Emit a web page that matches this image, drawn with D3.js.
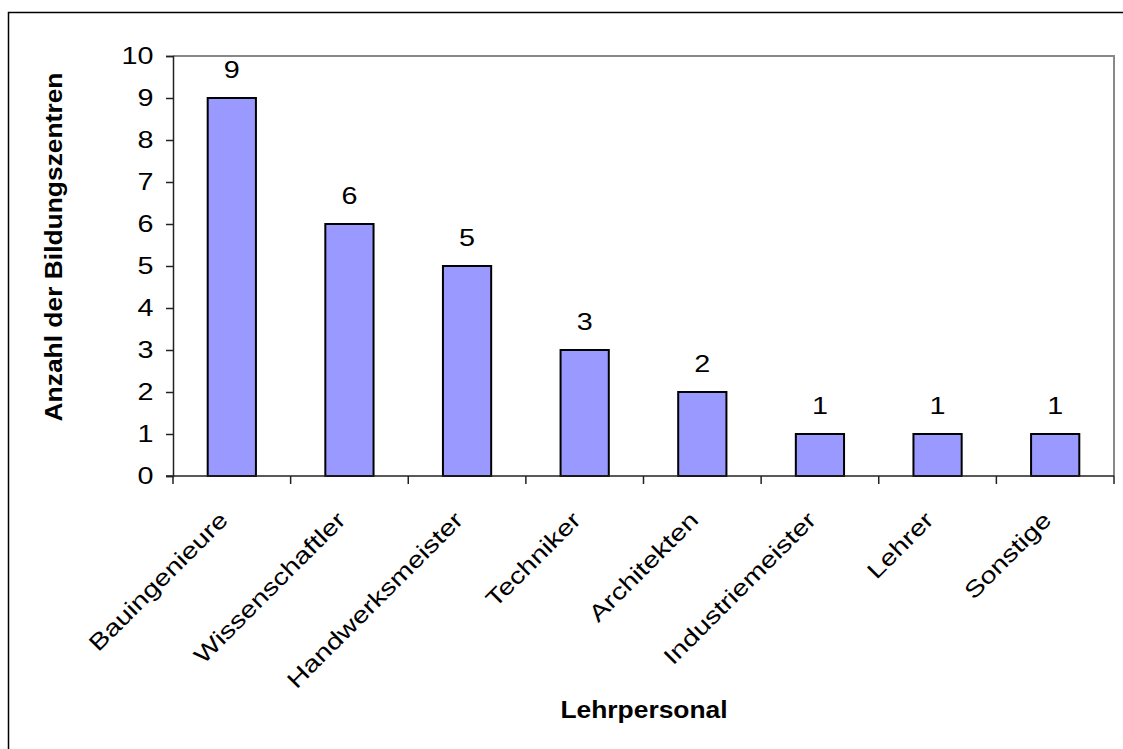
<!DOCTYPE html>
<html>
<head>
<meta charset="utf-8">
<script src="https://cdn.jsdelivr.net/npm/d3@7"></script>
<style>
  html, body { margin: 0; padding: 0; background: #fff; }
  svg { display: block; font-family: "Liberation Sans", Arial, sans-serif; }
</style>
</head>
<body>
<svg id="chart" width="1123" height="749"></svg>
<script>
// Teaching staff by profession, number of training centres
const categories = ["Bauingenieure", "Wissenschaftler", "Handwerksmeister", "Techniker",
                    "Architekten", "Industriemeister", "Lehrer", "Sonstige"];
const values = [9, 6, 5, 3, 2, 1, 1, 1];
const yTicks = [0, 1, 2, 3, 4, 5, 6, 7, 8, 9, 10];
const yTitle = "Anzahl der Bildungszentren";
const xTitle = "Lehrpersonal";

const svg = d3.select("#chart");
const W = 1123, H = 749;
const plot = { left: 173, top: 56, right: 1114, bottom: 476 };
const FONT = "Liberation Sans, Arial, sans-serif";
// the label face is set wide: glyphs are widened along the baseline
const WIDE = 1.25;
const LABEL_SIZE = 23;

// outer chart frame (extends past the right and bottom edge)
svg.append("rect")
  .attr("x", 8.5).attr("y", 12.5)
  .attr("width", W).attr("height", H)
  .attr("fill", "#fff").attr("stroke", "#000").attr("stroke-width", 1.5);

const x = d3.scaleBand()
  .domain(categories)
  .range([plot.left, plot.right])
  .paddingInner(0.59).paddingOuter(0.295);

const xOuter = d3.scaleBand().domain(categories).range([plot.left, plot.right]);

const y = d3.scaleLinear().domain([0, 10]).range([plot.bottom, plot.top]);

// plot area: grey top/right border
svg.append("path")
  .attr("d", `M${plot.left},${plot.top}H${plot.right}V${plot.bottom}`)
  .attr("fill", "none").attr("stroke", "#888").attr("stroke-width", 2);

// bars
svg.append("g").selectAll("rect")
  .data(values)
  .join("rect")
  .attr("x", (d, i) => x(categories[i]))
  .attr("y", d => y(d))
  .attr("width", x.bandwidth())
  .attr("height", d => y(0) - y(d))
  .attr("fill", "#9999ff")
  .attr("stroke", "#000")
  .attr("stroke-width", 2);

// value labels
svg.append("g").selectAll("text")
  .data(values)
  .join("text")
  .attr("transform", (d, i) =>
    `translate(${x(categories[i]) + x.bandwidth() / 2},${y(d) - 20}) scale(${WIDE},1)`)
  .attr("text-anchor", "middle")
  .attr("font-size", LABEL_SIZE)
  .attr("fill", "#000")
  .text(d => d);

// y axis
const yAxis = d3.axisLeft(y).tickValues(yTicks).tickSize(7).tickPadding(13).tickFormat(d3.format("d"));
const gy = svg.append("g").attr("transform", `translate(${plot.left},0)`).call(yAxis);
gy.select(".domain").attr("stroke", "#222").attr("stroke-width", 1.5);
gy.selectAll(".tick line").attr("stroke", "#222").attr("stroke-width", 1.5);
gy.selectAll(".tick text")
  .attr("font-size", LABEL_SIZE).attr("fill", "#000")
  .attr("font-family", FONT)
  .attr("x", -19.5 / WIDE)
  .attr("transform", `scale(${WIDE},1)`);

// x axis: baseline with ticks at category boundaries
const gx = svg.append("g");
gx.append("line")
  .attr("x1", plot.left - 7).attr("x2", plot.right)
  .attr("y1", plot.bottom).attr("y2", plot.bottom)
  .attr("stroke", "#222").attr("stroke-width", 1.5);
const boundaries = categories.map(c => xOuter(c)).concat([plot.right]);
gx.selectAll("line.tk")
  .data(boundaries)
  .join("line")
  .attr("class", "tk")
  .attr("x1", d => d).attr("x2", d => d)
  .attr("y1", plot.bottom).attr("y2", plot.bottom + 8)
  .attr("stroke", "#222").attr("stroke-width", 1.5);

// rotated category labels
gx.selectAll("text")
  .data(categories)
  .join("text")
  .attr("transform", d =>
    `translate(${xOuter(d) + xOuter.bandwidth() / 2 - 14},${plot.bottom + 34}) rotate(-45) scale(${WIDE},1)`)
  .attr("text-anchor", "end")
  .attr("dy", "0.71em")
  .attr("font-size", LABEL_SIZE)
  .attr("fill", "#000")
  .text(d => d);

// axis titles
svg.append("text")
  .attr("transform", `translate(62,247) rotate(-90) scale(1.1,1)`)
  .attr("text-anchor", "middle")
  .attr("font-size", 24).attr("font-weight", "bold")
  .text(yTitle);

svg.append("text")
  .attr("transform", `translate(644,718) scale(1.1,1)`)
  .attr("text-anchor", "middle")
  .attr("font-size", 24).attr("font-weight", "bold")
  .text(xTitle);
</script>
</body>
</html>
